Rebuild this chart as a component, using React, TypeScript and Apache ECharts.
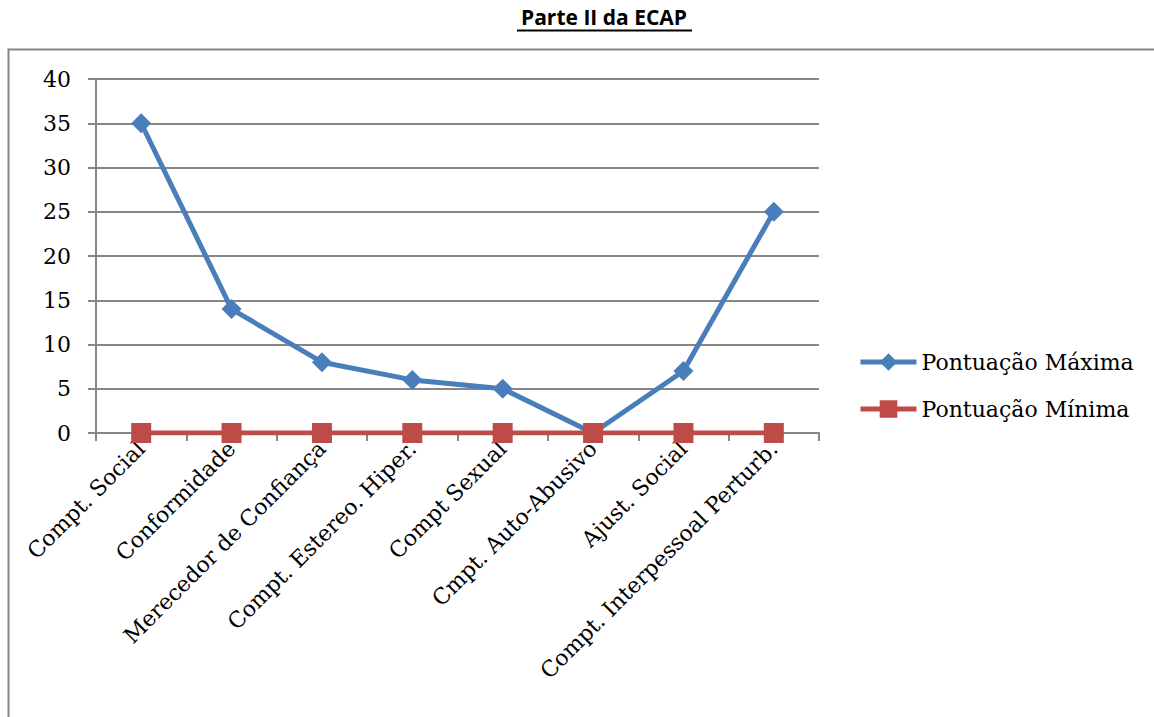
import React, { useEffect, useRef } from "react";
import * as echarts from "echarts";

const categories = [
  "Compt. Social",
  "Conformidade",
  "Merecedor de Confiança",
  "Compt. Estereo. Hiper.",
  "Compt Sexual",
  "Cmpt. Auto-Abusivo",
  "Ajust. Social",
  "Compt. Interpessoal Perturb.",
];
const maxScores = [35, 14, 8, 6, 5, 0, 7, 25];
const minScores = [0, 0, 0, 0, 0, 0, 0, 0];
const yTicks = { min: 0, max: 40, interval: 5 };

const SERIF = "'DejaVu Serif', serif";
const GRAY = "#868686";

export default function App() {
  const ref = useRef<HTMLDivElement>(null);

  useEffect(() => {
    if (!ref.current) return;
    const chart = echarts.init(ref.current, null, { renderer: "svg" });
    chart.setOption({
      animation: false,
      backgroundColor: "#ffffff",
      graphic: [
        {
          type: "rect",
          z: -10,
          shape: { x: 8.5, y: 49.5, width: 1400, height: 900 },
          style: { fill: "none", stroke: GRAY, lineWidth: 2 },
        },
        {
          type: "text",
          x: 604,
          y: 6,
          style: {
            text: "Parte II da ECAP",
            font: "bold 21px 'Open Sans', Lato, sans-serif",
            fill: "#000",
            textAlign: "center",
            textVerticalAlign: "top",
          },
        },
        {
          type: "line",
          shape: { x1: 517, y1: 30.5, x2: 692, y2: 30.5 },
          style: { stroke: "#000", lineWidth: 2 },
        },
      ],
      grid: { left: 96, right: 335, top: 79, bottom: 284, containLabel: false },
      legend: {
        orient: "vertical",
        left: 858,
        top: 351,
        itemWidth: 56,
        itemHeight: 22,
        itemGap: 25,
        padding: 0,
        lineStyle: { width: 5 },
        textStyle: { fontFamily: SERIF, fontSize: 22, color: "#000" },
        data: ["Pontuação Máxima", "Pontuação Mínima"],
      },
      xAxis: {
        type: "category",
        data: categories,
        boundaryGap: true,
        axisLine: { lineStyle: { color: GRAY, width: 2 } },
        axisTick: { show: true, length: 8, lineStyle: { color: GRAY, width: 2 } },
        axisLabel: {
          rotate: 45,
          interval: 0,
          margin: 12,
          fontFamily: SERIF,
          fontSize: 22,
          color: "#000",
        },
        splitLine: { show: false },
      },
      yAxis: {
        type: "value",
        min: yTicks.min,
        max: yTicks.max,
        interval: yTicks.interval,
        axisLine: { show: true, lineStyle: { color: GRAY, width: 2 } },
        axisTick: { show: true, length: 8, lineStyle: { color: GRAY, width: 2 } },
        axisLabel: {
          margin: 25,
          fontFamily: SERIF,
          fontSize: 22,
          color: "#000",
        },
        splitLine: { show: true, lineStyle: { color: GRAY, width: 2 } },
      },
      series: [
        {
          name: "Pontuação Máxima",
          type: "line",
          data: maxScores,
          symbol: "diamond",
          symbolSize: 20,
          color: "#4a7ebb",
          lineStyle: { width: 5, color: "#4a7ebb" },
          itemStyle: { color: "#4a7ebb" },
          z: 3,
        },
        {
          name: "Pontuação Mínima",
          type: "line",
          data: minScores,
          symbol: "rect",
          symbolSize: 20,
          color: "#be4b48",
          lineStyle: { width: 5, color: "#be4b48" },
          itemStyle: { color: "#be4b48" },
          z: 4,
        },
      ],
    });
    return () => chart.dispose();
  }, []);

  return (
    <div
      ref={ref}
      style={{ position: "absolute", left: 0, top: 0, width: 1154, height: 717 }}
    />
  );
}
